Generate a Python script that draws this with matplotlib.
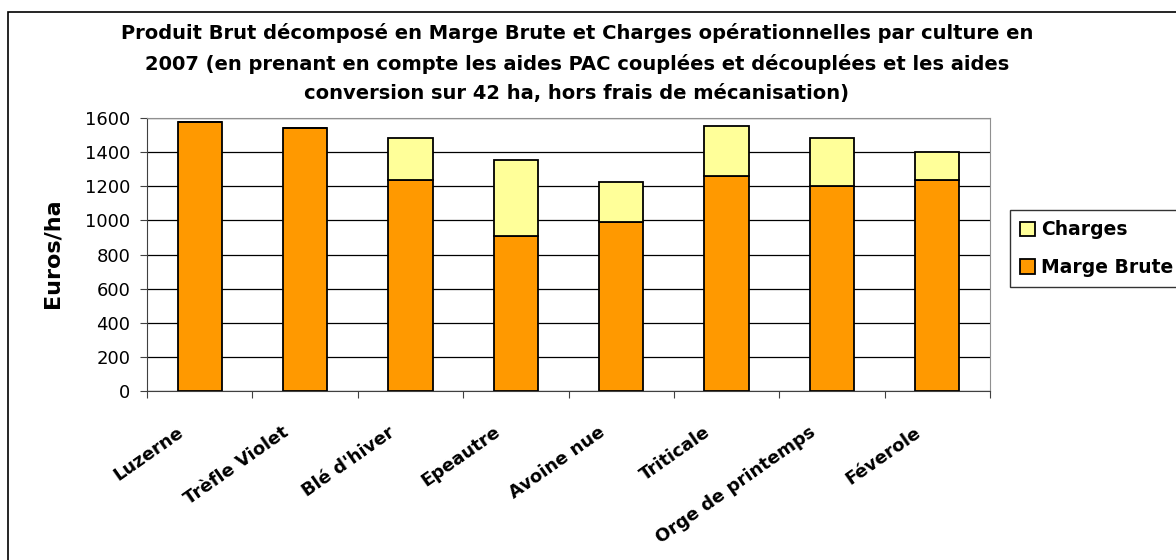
import numpy as np
import matplotlib.pyplot as plt
from matplotlib.patches import Rectangle
from matplotlib.transforms import ScaledTranslation

# Data
cultures = ['Luzerne', 'Trèfle Violet', "Blé d'hiver", 'Epeautre', 'Avoine nue',
            'Triticale', 'Orge de printemps', 'Féverole']
marge_brute = [1575, 1540, 1238, 911, 989, 1261, 1200, 1238]
produit_brut = [1575, 1540, 1482, 1353, 1226, 1553, 1482, 1400]
charges = [p - m for p, m in zip(produit_brut, marge_brute)]

plt.rcParams['font.family'] = ['DejaVu Sans']

fig = plt.figure(figsize=(11.76, 5.6), dpi=100)
ax = fig.add_axes([147 / 1176, 1 - 391 / 560, (990 - 147) / 1176, (391 - 118) / 560])

x = np.arange(len(cultures))
b1 = ax.bar(x, marge_brute, width=0.42, color='#FF9900', edgecolor='black',
            linewidth=1.3, label='Marge Brute', zorder=3)
b2 = ax.bar(x, charges, width=0.42, bottom=marge_brute, color='#FFFF99',
            edgecolor='black', linewidth=1.3, label='Charges', zorder=3)

ax.set_xlim(-0.5, len(cultures) - 0.5)
ax.set_ylim(0, 1600)
ax.set_yticks(np.arange(0, 1601, 200))
ax.yaxis.grid(True, color='black', linewidth=0.9, zorder=0)

# category separators as major ticks, names as minor tick labels
ax.set_xticks(np.arange(-0.5, len(cultures), 1.0))
ax.set_xticklabels([])
ax.set_xticks(x, minor=True)
ax.set_xticklabels(cultures, minor=True, rotation=35, ha='right', va='top',
                   rotation_mode='anchor', fontsize=13, fontweight='bold')
ax.tick_params(axis='x', which='minor', length=0, pad=0)
ax.tick_params(axis='x', which='major', direction='out', length=5, color='#404040')
ax.tick_params(axis='y', direction='out', length=5, labelsize=13, pad=7,
               color='#404040')
shift = ScaledTranslation(-0.23, -0.32, fig.dpi_scale_trans)
for lab in ax.get_xticklabels(minor=True):
    lab.set_transform(lab.get_transform() + shift)

for s in ['top', 'right']:
    ax.spines[s].set_color('#909090')
for s in ['left', 'bottom']:
    ax.spines[s].set_color('#404040')

fig.text(53 / 1176, 1 - 253 / 560, 'Euros/ha', rotation=90, ha='center', va='center',
         fontsize=16, fontweight='bold')

title = ("Produit Brut décomposé en Marge Brute et Charges opérationnelles par culture en\n"
         "2007 (en prenant en compte les aides PAC couplées et découplées et les aides\n"
         "conversion sur 42 ha, hors frais de mécanisation)")
fig.text(577 / 1176, 1 - 63 / 560, title, ha='center', va='center', fontsize=14,
         fontweight='bold', linespacing=1.68)

leg = fig.legend(handles=[b2, b1], labels=['Charges', 'Marge Brute'],
                 loc='upper left', bbox_to_anchor=(1010 / 1176, 1 - 210 / 560),
                 frameon=True, fancybox=False, edgecolor='black',
                 prop={'weight': 'bold', 'size': 13.5}, handlelength=0.8,
                 handleheight=0.8, handletextpad=0.3, borderpad=0.55,
                 labelspacing=1.0, borderaxespad=0)
leg.get_frame().set_linewidth(1.0)

fig.patches.append(Rectangle((8 / 1176, -0.1), 1.2, 1 - 12 / 560 + 0.1,
                             transform=fig.transFigure, fill=False,
                             edgecolor='black', linewidth=1.2))

plt.savefig('out.png', dpi=100)
